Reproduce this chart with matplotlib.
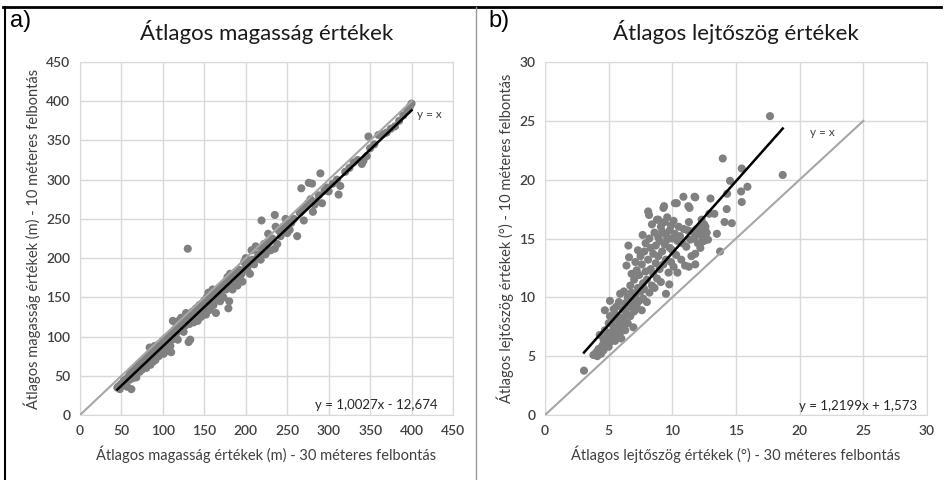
import numpy as np
import matplotlib.pyplot as plt
from matplotlib.lines import Line2D

plt.rcParams['font.family'] = ['Lato', 'DejaVu Sans']

# a) magassag: 30 m felbontas (x) - 10 m felbontas (y)
mag30 = [45, 47, 48, 50, 52, 53, 55, 56, 57, 58, 60, 60, 62, 62, 63, 64, 65, 66, 67, 68,
         68, 70, 70, 71, 72, 73, 74, 75, 75, 76, 77, 78, 79, 80, 80, 81, 82, 83, 84, 85,
         85, 86, 87, 88, 88, 89, 90, 90, 91, 92, 93, 94, 95, 95, 96, 97, 98, 99, 100, 100,
         101, 102, 103, 104, 105, 106, 107, 108, 109, 110, 110, 111, 112, 113, 114, 115, 116, 117, 118, 119,
         120, 121, 122, 123, 124, 125, 126, 127, 128, 129, 130, 130, 131, 133, 132, 134, 135, 136, 137, 138,
         139, 140, 141, 142, 143, 144, 145, 146, 147, 148, 149, 150, 151, 152, 153, 154, 155, 156, 157, 158,
         159, 160, 161, 162, 163, 164, 165, 166, 168, 169, 170, 172, 173, 175, 176, 178, 179, 180, 180, 181,
         182, 184, 185, 186, 188, 189, 190, 192, 193, 195, 196, 198, 200, 200, 202, 204, 205, 207, 208, 210,
         212, 214, 215, 218, 219, 220, 222, 224, 225, 227, 228, 230, 232, 235, 235, 236, 238, 240, 242, 245,
         248, 249, 250, 253, 255, 258, 262, 265, 267, 268, 270, 272, 275, 276, 278, 280, 281, 283, 285, 288,
         290, 292, 295, 298, 300, 305, 310, 312, 314, 320, 325, 330, 335, 340, 342, 346, 348, 350, 355, 360,
         365, 370, 375, 380, 385, 390, 395, 398, 400]
mag10 = [35, 37, 33, 40, 38, 44, 41, 46, 36, 48, 45, 52, 50, 33, 55, 47, 52, 58, 54, 60,
         48, 57, 62, 65, 55, 60, 68, 58, 64, 70, 62, 66, 72, 60, 68, 75, 65, 70, 86, 72,
         64, 78, 74, 68, 84, 80, 76, 88, 70, 82, 78, 86, 90, 75, 84, 80, 92, 88, 84, 95,
         78, 90, 98, 86, 92, 82, 100, 94, 88, 104, 80, 96, 120, 100, 108, 118, 104, 112, 96, 120,
         108, 115, 124, 110, 118, 106, 122, 114, 130, 120, 126, 212, 93, 96, 116, 128, 122, 132, 118, 130,
         124, 136, 128, 120, 134, 140, 130, 125, 142, 136, 132, 146, 140, 128, 150, 138, 156, 144, 134, 152,
         146, 160, 140, 154, 148, 130, 158, 150, 162, 145, 155, 164, 150, 168, 160, 176, 136, 145, 165, 180,
         170, 160, 175, 168, 182, 172, 165, 185, 175, 180, 170, 195, 188, 200, 185, 192, 180, 210, 198, 192,
         215, 200, 205, 198, 248, 212, 218, 205, 212, 231, 220, 210, 225, 212, 255, 240, 218, 235, 228, 240,
         250, 242, 232, 236, 245, 250, 228, 258, 289, 262, 248, 265, 270, 296, 275, 295, 259, 268, 272, 280,
         308, 270, 286, 290, 285, 295, 300, 281, 292, 310, 315, 322, 325, 320, 324, 330, 355, 340, 345, 357,
         358, 360, 365, 368, 375, 382, 388, 393, 397]

# b) lejtoszog: 30 m felbontas (x) - 10 m felbontas (y)
lejt30 = [3.06, 3.8, 4.0, 4.1, 4.2, 4.3, 4.4, 4.5, 4.6, 4.6, 4.7, 4.7, 4.8, 4.9, 5.0, 5.0, 5.1, 5.1, 5.1, 5.2,
          5.3, 5.3, 5.4, 5.4, 5.5, 5.5, 5.6, 5.6, 5.7, 5.7, 5.8, 5.8, 5.9, 5.9, 6.0, 6.0, 6.1, 6.1, 6.2, 6.2,
          6.3, 6.3, 6.4, 6.4, 6.5, 6.5, 6.55, 6.6, 6.6, 6.7, 6.7, 6.8, 6.8, 6.9, 6.94, 7.0, 7.0, 7.1, 7.1, 7.2,
          7.2, 7.3, 7.3, 7.4, 7.4, 7.5, 7.5, 7.6, 7.6, 7.67, 7.7, 7.7, 7.8, 7.8, 7.9, 7.9, 8.0, 8.0, 8.1, 8.1,
          8.2, 8.2, 8.3, 8.3, 8.4, 8.4, 8.5, 8.5, 8.6, 8.6, 8.7, 8.7, 8.8, 8.8, 8.9, 8.9, 9.0, 9.0, 9.1, 9.1,
          9.2, 9.2, 9.3, 9.3, 9.4, 9.4, 9.5, 9.5, 9.5, 9.6, 9.6, 9.7, 9.76, 9.8, 9.8, 9.9, 9.9, 10.0, 10.0, 10.1,
          10.1, 10.2, 10.2, 10.3, 10.4, 10.4, 10.5, 10.6, 10.7, 10.8, 10.87, 10.9, 11.0, 11.1, 11.2, 11.3, 11.3, 11.35, 11.4, 11.5,
          11.6, 11.74, 11.8, 11.8, 11.9, 12.0, 12.1, 12.2, 12.3, 12.4, 12.5, 12.6, 12.7, 12.8, 12.9, 13.0, 13.3, 13.5, 13.75, 13.96,
          14.1, 14.27, 14.3, 14.53, 14.67, 15.4, 15.45, 15.45, 15.9, 17.67, 18.67, 11.9, 12.2, 12.4, 12.6, 12.3, 12.5, 11.7, 8.17, 8.9,
          9.35, 10.35, 11.26, 11.8]
lejt10 = [3.77, 5.1, 5.3, 5.0, 5.6, 6.8, 5.2, 5.9, 6.4, 5.5, 7.2, 8.9, 6.0, 6.7, 5.8, 7.8, 6.2, 8.4, 9.7, 7.0,
          6.5, 8.0, 7.4, 9.0, 6.3, 8.6, 7.1, 9.2, 6.6, 8.1, 7.6, 9.6, 7.0, 10.3, 8.3, 6.5, 9.0, 7.4, 10.5, 8.0,
          7.2, 9.5, 12.7, 8.6, 10.0, 7.8, 14.4, 13.4, 9.2, 11.0, 8.4, 10.4, 12.0, 9.6, 7.45, 11.5, 8.8, 10.2, 13.0, 9.3,
          12.3, 10.8, 14.0, 9.7, 11.9, 13.5, 10.5, 8.9, 12.8, 15.3, 11.2, 9.9, 13.9, 10.7, 12.2, 14.6, 11.5, 9.6, 17.3, 13.2,
          10.4, 15.0, 12.4, 14.2, 11.0, 16.2, 13.7, 12.0, 15.5, 10.8, 14.4, 12.9, 16.6, 11.6, 13.5, 15.1, 12.4, 14.8, 16.0, 11.3,
          13.9, 15.6, 17.6, 12.8, 14.5, 16.4, 10.3, 13.2, 15.3, 14.9, 16.8, 12.1, 11.1, 15.7, 14.2, 16.1, 13.0, 15.0, 14.0, 12.6,
          16.5, 18.0, 15.4, 13.6, 12.1, 14.8, 16.0, 15.2, 13.2, 14.6, 18.55, 15.8, 12.7, 14.3, 15.7, 16.4, 12.6, 17.6, 14.9, 13.5,
          15.6, 18.55, 13.7, 12.8, 15.3, 14.6, 15.9, 14.2, 16.6, 15.1, 14.8, 16.0, 15.5, 14.9, 17.1, 18.4, 17.1, 15.4, 13.9, 21.8,
          16.4, 17.5, 18.8, 19.9, 16.3, 19.0, 18.1, 20.95, 19.4, 25.4, 20.4, 15.8, 15.5, 15.9, 15.3, 14.7, 16.2, 15.0, 17.0, 16.6,
          17.75, 18.0, 17.75, 18.5]

panels = [
    dict(x=mag30, y=mag10, lim=450, step=50, idline=400, fit=(1.0027, -12.674),
         title='Átlagos magasság értékek', tag='a)',
         xlabel='Átlagos magasság értékek (m) - 30 méteres felbontás',
         ylabel='Átlagos magasság értékek (m) - 10 méteres felbontás',
         eq='y = 1,0027x - 12,674', eqpos=(358, 13), idpos=(422, 383),
         rect=[80/944, 65/480, 373/944, 353/480]),
    dict(x=lejt30, y=lejt10, lim=30, step=5, idline=25, fit=(1.2199, 1.573),
         title='Átlagos lejtőszög értékek', tag='b)',
         xlabel='Átlagos lejtőszög értékek (°) - 30 méteres felbontás',
         ylabel='Átlagos lejtőszög értékek (°) - 10 méteres felbontás',
         eq='y = 1,2199x + 1,573', eqpos=(24.6, 0.8), idpos=(21.8, 24.0),
         rect=[545/944, 65/480, 382/944, 353/480]),
]

fig = plt.figure(figsize=(9.44, 4.8), dpi=100)

for p in panels:
    ax = fig.add_axes(p['rect'])
    x = np.array(p['x'])
    y = np.array(p['y'])
    ax.scatter(x, y, s=34, color='#808080', edgecolors='none', zorder=3)
    ax.plot([0, p['idline']], [0, p['idline']], color='#a6a6a6', lw=1.5, zorder=4)
    a, b = p['fit']
    xf = np.array([x.min(), x.max()])
    ax.plot(xf, a*xf + b, color='black', lw=1.8, zorder=5)
    ax.set_xlim(0, p['lim'])
    ax.set_ylim(0, p['lim'])
    ticks = np.arange(0, p['lim'] + 1, p['step'])
    ax.set_xticks(ticks)
    ax.set_yticks(ticks)
    ax.grid(True, color='#d9d9d9', lw=1)
    ax.set_axisbelow(True)
    for s in ax.spines.values():
        s.set_color('#d9d9d9')
    ax.tick_params(length=0, labelsize=10, colors='#404040', pad=7)
    for lab in ax.get_xticklabels() + ax.get_yticklabels():
        lab.set_fontweight('semibold')
    ax.set_xlabel(p['xlabel'], fontsize=10.5, color='#404040', labelpad=6)
    ax.set_ylabel(p['ylabel'], fontsize=10.5, color='#404040', labelpad=4)
    ax.set_title(p['title'], fontsize=16, color='#1a1a1a', pad=16)
    ax.text(p['idpos'][0], p['idpos'][1], 'y = x', fontsize=8.5, color='#404040',
            ha='center', va='center')
    ax.text(p['eqpos'][0], p['eqpos'][1], p['eq'], fontsize=9.5, color='#262626',
            ha='center', va='center')

fig.text(10/944, 1 - 21/480, 'a)', fontsize=17, family='Liberation Sans', va='center')
fig.text(488/944, 1 - 21/480, 'b)', fontsize=17, family='Liberation Sans', va='center')

# keretek
fig.add_artist(Line2D([3/944, 941/944], [1 - 7/480, 1 - 7/480], color='black', lw=2))
fig.add_artist(Line2D([5/944, 5/944], [0, 1 - 7/480], color='black', lw=1.5))
fig.add_artist(Line2D([476/944, 476/944], [0, 1 - 7/480], color='#999999', lw=1))

fig.savefig('out.png', dpi=100)
